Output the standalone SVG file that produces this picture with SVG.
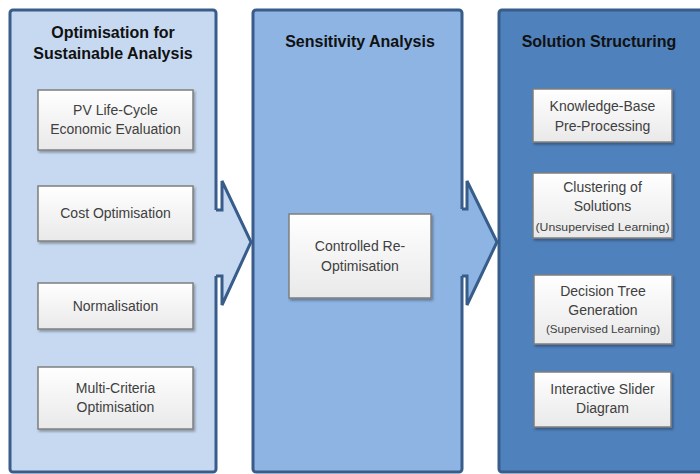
<svg xmlns="http://www.w3.org/2000/svg" width="700" height="474" viewBox="0 0 700 474">
  <defs>
    <linearGradient id="boxGrad" x1="0" y1="0" x2="0" y2="1">
      <stop offset="0" stop-color="#ffffff"/>
      <stop offset="1" stop-color="#e9e9e9"/>
    </linearGradient>
    <filter id="shadow" x="-10%" y="-10%" width="130%" height="140%">
      <feDropShadow dx="1.5" dy="2" stdDeviation="1.2" flood-color="#000" flood-opacity="0.3"/>
    </filter>
  </defs>
  <style>
    .panel { stroke: #385d8a; stroke-width: 3; }
    .p1 { fill: #c6d9f1; }
    .p2 { fill: #8eb4e3; }
    .p3 { fill: #4f81bd; }
    .box { fill: url(#boxGrad); stroke: #7f7f7f; stroke-width: 1.5; filter: url(#shadow); }
    .title { font-family: "Liberation Sans", Arial, sans-serif; font-weight: bold; font-size: 16px; fill: #111; text-anchor: middle; }
    .label { font-family: "Liberation Sans", Arial, sans-serif; font-size: 14px; fill: #404040; text-anchor: middle; }
    .small { font-family: "Liberation Sans", Arial, sans-serif; font-size: 11px; fill: #404040; text-anchor: middle; }
    .arrowLine { fill: none; stroke: #385d8a; stroke-width: 3; stroke-linejoin: miter; }
  </style>

  <g id="panel-optimisation">
    <rect class="panel p1" x="10" y="10" width="206" height="462" rx="3"/>
    <text class="title" x="113" y="38">Optimisation for</text>
    <text class="title" x="113" y="59">Sustainable Analysis</text>
  </g>
  <g id="panel-sensitivity">
    <rect class="panel p2" x="253" y="10" width="209" height="462" rx="3"/>
    <text class="title" x="360" y="47">Sensitivity Analysis</text>
  </g>
  <g id="panel-structuring">
    <rect class="panel p3" x="499" y="10" width="215" height="462" rx="3"/>
    <text class="title" x="599" y="47">Solution Structuring</text>
  </g>

  <g id="connectors">
    <polygon class="p1" points="213,210 222,210 222,181 251,242 222,305 222,276 213,276"/>
    <polyline class="arrowLine" points="216,210 222,210 222,181 251,242 222,305 222,276 216,276"/>
    <polygon class="p2" points="459,209 467,209 467,181 497,242 467,305 467,276 459,276"/>
    <polyline class="arrowLine" points="462,209 467,209 467,181 497,242 467,305 467,276 462,276"/>
  </g>

  <g id="node-pv-lifecycle">
    <rect class="box" x="38" y="90" width="155" height="60"/>
    <text class="label" x="115.5" y="115">PV Life-Cycle</text>
    <text class="label" x="115.5" y="134">Economic Evaluation</text>
  </g>
  <g id="node-cost-optimisation">
    <rect class="box" x="38" y="186" width="155" height="55"/>
    <text class="label" x="115.5" y="218">Cost Optimisation</text>
  </g>
  <g id="node-normalisation">
    <rect class="box" x="38" y="283" width="155" height="46"/>
    <text class="label" x="115.5" y="311">Normalisation</text>
  </g>
  <g id="node-multi-criteria">
    <rect class="box" x="38" y="367" width="155" height="62"/>
    <text class="label" x="115.5" y="393">Multi-Criteria</text>
    <text class="label" x="115.5" y="412">Optimisation</text>
  </g>

  <g id="node-controlled-reoptimisation">
    <rect class="box" x="289" y="214" width="142" height="84"/>
    <text class="label" x="360" y="251">Controlled Re-</text>
    <text class="label" x="360" y="271">Optimisation</text>
  </g>

  <g id="node-knowledge-base">
    <rect class="box" x="533" y="89" width="139" height="53"/>
    <text class="label" x="602.5" y="111">Knowledge-Base</text>
    <text class="label" x="602.5" y="131">Pre-Processing</text>
  </g>
  <g id="node-clustering">
    <rect class="box" x="533" y="173" width="139" height="65"/>
    <text class="label" x="602.5" y="192">Clustering of</text>
    <text class="label" x="602.5" y="211">Solutions</text>
    <text class="small" x="602.5" y="231" textLength="134" lengthAdjust="spacingAndGlyphs">(Unsupervised Learning)</text>
  </g>
  <g id="node-decision-tree">
    <rect class="box" x="534" y="275" width="138" height="69"/>
    <text class="label" x="603" y="296">Decision Tree</text>
    <text class="label" x="603" y="315">Generation</text>
    <text class="small" x="603" y="333" textLength="114" lengthAdjust="spacingAndGlyphs">(Supervised Learning)</text>
  </g>
  <g id="node-interactive-slider">
    <rect class="box" x="534" y="372" width="137" height="55"/>
    <text class="label" x="602.5" y="394">Interactive Slider</text>
    <text class="label" x="602.5" y="413">Diagram</text>
  </g>
</svg>
